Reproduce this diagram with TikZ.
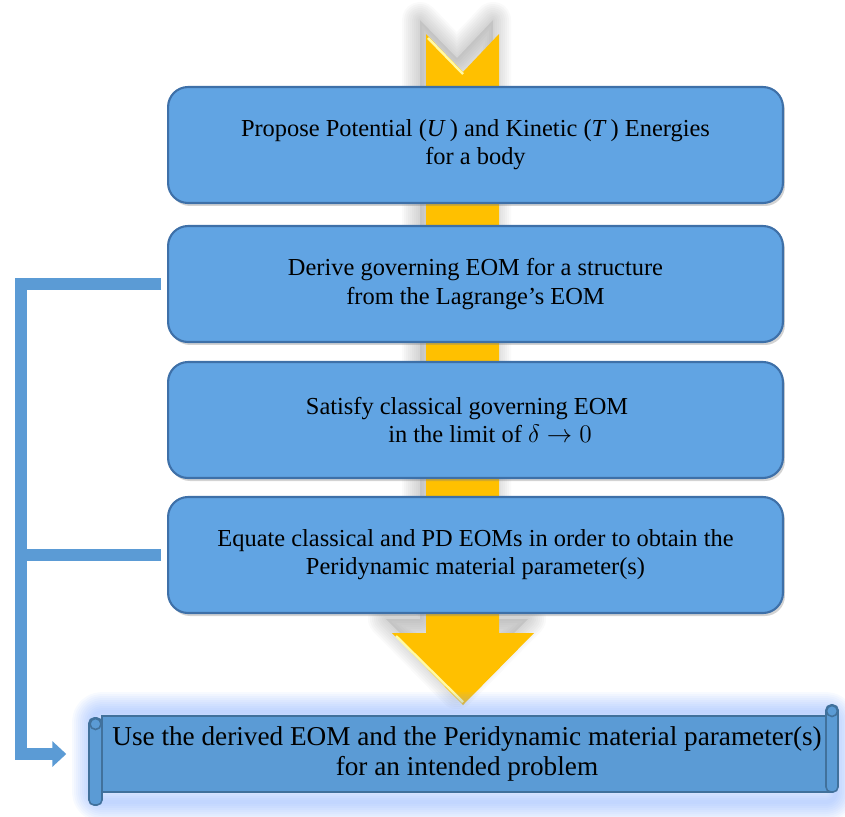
\documentclass[tikz,border=0pt]{standalone}
\usepackage{fontspec}
\setmainfont{Liberation Serif}
\usetikzlibrary{arrows.meta,shadows}

\definecolor{stepblue}{RGB}{97,164,227}
\definecolor{stepedge}{RGB}{62,112,168}
\definecolor{scrollblue}{RGB}{91,155,213}
\definecolor{scrolledge}{RGB}{65,113,156}
\definecolor{glowblue}{RGB}{120,165,255}
\definecolor{linkblue}{RGB}{91,155,213}
\definecolor{flowyellow}{RGB}{255,192,0}

\tikzset{
  stepbox/.style={draw=stepedge, line width=1.2pt, fill=stepblue, rounded corners=0.4cm,
    minimum width=12.3cm, minimum height=2.32cm, align=center,
    font=\fontsize{13.9}{16}\selectfont,
    drop shadow={opacity=0.35, shadow xshift=0.04cm, shadow yshift=-0.06cm}},
  scrollbox/.style={draw=scrolledge, line width=0.9pt, fill=scrollblue,
    minimum width=14.6cm, minimum height=1.52cm, align=center,
    font=\fontsize{15.5}{17}\selectfont},
  scrollroll/.style={draw=scrolledge, line width=0.9pt, fill=scrollblue, rounded corners=0.1cm},
  bracket/.style={draw=linkblue, line width=0.24cm}
}

\newcommand\flowarrow{(426,34) -- (463,72) -- (499,34) -- (499,633) -- (534,633) -- (463,705) -- (392,633) -- (426,633) -- cycle}

\begin{document}
\begin{tikzpicture}[x=0.02cm,y=-0.02cm]
\useasboundingbox (0,0) rectangle (845,816);

% soft shadow behind the big arrow
\begin{scope}[shift={(-6,-14)}]
  \foreach \w in {4,8,...,36}
    \draw[gray, opacity=0.045, line width=\w*0.02cm, line join=round] \flowarrow;
  \fill[gray, opacity=0.2] \flowarrow;
\end{scope}
\fill[flowyellow] \flowarrow;
\draw[yellow!35!white, line width=1.4pt] (428,38) -- (463,74);
\draw[yellow!35!white, line width=1.4pt] (396,636) -- (463,702);

% steps
\node[stepbox] (energy) at (475.5,145) {Propose Potential (\textit{U}\,) and Kinetic (\textit{T}\,) Energies\\for a body};
\node[stepbox] (derive) at (475.5,284) {Derive governing EOM for a structure\\from the Lagrange's EOM};
\node[stepbox] (limit) at (475.5,420) {Satisfy classical governing EOM\hspace*{0.34cm}\\\hspace*{0.58cm}in the limit of $\delta\rightarrow 0$};
\node[stepbox] (equate) at (475.5,555) {Equate classical and PD EOMs in order to obtain the\\Peridynamic material parameter(s)};

% glow round the scroll
\foreach \w in {4,8,...,40}
  \draw[glowblue, opacity=0.06, line width=\w*0.02cm, line join=round, rounded corners=0.2cm] (92,712) rectangle (836,802);

% scroll
\node[scrollbox] (usage) at (467,754) {Use the derived EOM and the Peridynamic material parameter(s)\\for an intended problem};
\draw[scrollroll] (826,705) rectangle (838,792);
\filldraw[scrollroll] (832,711) circle (0.11cm);
\draw[scrollroll] (89,718) rectangle (102,805);
\filldraw[scrollroll] (95.5,724) circle (0.11cm);

% links on the left
\draw[bracket, -{Triangle[length=0.28cm,width=0.5cm]}] ([xshift=-0.12cm]derive.west) -- (21,284) -- (21,754) [rounded corners=0.45cm] -- ([xshift=-0.7cm]usage.west);
\draw[bracket] ([xshift=-0.12cm]equate.west) -- (21,555);
\end{tikzpicture}
\end{document}
